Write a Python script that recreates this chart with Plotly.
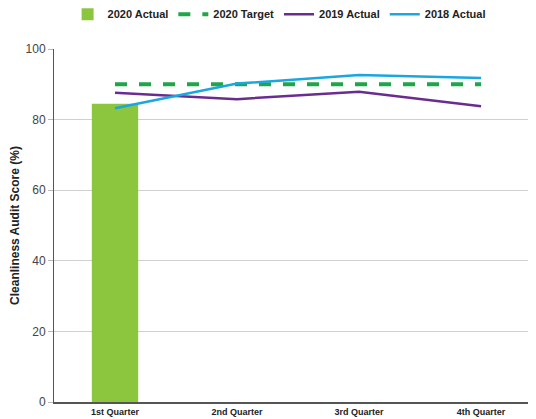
import plotly.graph_objects as go

quarters = ["1st Quarter", "2nd Quarter", "3rd Quarter", "4th Quarter"]
actual_2020 = [84.5, None, None, None]
target_2020 = [90, 90, 90, 90]
actual_2019 = [87.6, 85.8, 87.9, 83.8]
actual_2018 = [83.2, 90.2, 92.6, 91.8]

fig = go.Figure()
fig.add_trace(go.Bar(x=quarters, y=actual_2020, name="2020 Actual",
                     marker=dict(color="#8CC63F", line=dict(width=0))))
fig.add_trace(go.Scatter(x=quarters, y=target_2020, name="2020 Target", mode="lines",
                         line=dict(color="#1FA54A", width=4, dash="dash")))
fig.add_trace(go.Scatter(x=quarters, y=actual_2019, name="2019 Actual", mode="lines",
                         line=dict(color="#6B2C91", width=2.5)))
fig.add_trace(go.Scatter(x=quarters, y=actual_2018, name="2018 Actual", mode="lines",
                         line=dict(color="#1AA7E0", width=2.5)))

fig.update_layout(
    width=528, height=411,
    margin=dict(l=46, r=0, t=41, b=17),
    plot_bgcolor="white", paper_bgcolor="white",
    font=dict(family="Liberation Sans, Arial, sans-serif", color="#333333"),
    bargap=0.62,
    showlegend=True,
    legend=dict(orientation="h", x=0.467, xanchor="center", y=0.985, yref="container", yanchor="middle",
                font=dict(size=11, family="Liberation Sans, Arial, sans-serif", color="#222222", weight="bold"),
                traceorder="normal", itemwidth=30, bgcolor="rgba(0,0,0,0)"),
    xaxis=dict(range=[-0.5, 3.45], showline=True, linecolor="#555555", linewidth=1.5,
               tickfont=dict(size=9, color="#222222", weight="bold"), ticks="", showgrid=False),
    yaxis=dict(range=[0, 100], tickvals=[0, 20, 40, 60, 80, 100], showline=True,
               linecolor="#555555", linewidth=1, gridcolor="#D0D0D0", gridwidth=1,
               ticks="outside", ticklen=5, tickcolor="#BBBBBB",
               tickfont=dict(size=12, color="#444444"),
               title=dict(text="Cleanliness Audit Score (%)", font=dict(size=12, color="#222222", weight="bold"), standoff=3),
               zeroline=False),
)
fig.write_html("out.html")
